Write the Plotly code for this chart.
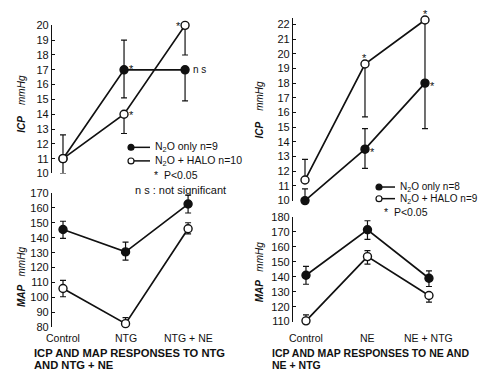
import plotly.graph_objects as go

W, H = 482, 376

# ---------------- data ----------------
left_cats = ["Control", "NTG", "NTG + NE"]
right_cats = ["Control", "NE", "NE + NTG"]

# Left panel (NTG, NTG+NE)
l_icp_n2o = [11.0, 17.0, 17.0]
l_icp_n2o_up = [1.6, 2.0, 0.0]
l_icp_n2o_dn = [0.0, 1.9, 2.1]
l_icp_halo = [11.0, 14.0, 20.0]
l_icp_halo_up = [0.0, 0.0, 0.0]
l_icp_halo_dn = [1.0, 1.3, 2.0]
l_icp_n2o_sig = ["", "*", "n s"]
l_icp_halo_sig = ["", "*", "*"]

l_map_n2o = [145.5, 130.5, 162.5]
l_map_n2o_up = [5.5, 6.5, 6.0]
l_map_n2o_dn = [6.0, 5.5, 6.0]
l_map_halo = [106.0, 82.5, 146.0]
l_map_halo_up = [5.5, 4.0, 4.0]
l_map_halo_dn = [5.5, 0.0, 3.5]

# Right panel (NE, NE+NTG)
r_icp_n2o = [10.0, 13.5, 18.0]
r_icp_n2o_up = [0.8, 1.4, 0.0]
r_icp_n2o_dn = [0.0, 1.3, 3.1]
r_icp_halo = [11.4, 19.3, 22.3]
r_icp_halo_up = [1.4, 0.0, 0.0]
r_icp_halo_dn = [0.0, 3.6, 4.3]
r_icp_n2o_sig = ["", "*", "*"]
r_icp_halo_sig = ["", "*", "*"]

r_map_n2o = [141.0, 171.5, 139.0]
r_map_n2o_up = [6.0, 6.0, 5.0]
r_map_n2o_dn = [6.0, 6.5, 5.5]
r_map_halo = [110.5, 153.5, 127.5]
r_map_halo_up = [4.0, 4.0, 0.0]
r_map_halo_dn = [0.0, 5.0, 4.5]

left_legend = ["N<sub>2</sub>O only n=9", "N<sub>2</sub>O + HALO n=10"]
right_legend = ["N<sub>2</sub>O only n=8", "N<sub>2</sub>O + HALO n=9"]
sig_text = "P<0.05"
ns_text = "n s : not significant"
left_title = ["ICP AND MAP RESPONSES TO NTG", "AND NTG + NE"]
right_title = ["ICP AND MAP RESPONSES TO NE AND", "NE + NTG"]

# ---------------- helpers ----------------
FONT = "Liberation Sans"
BLACK = "#111111"


def px(x):
    return x / W


def py(y):
    return 1 - y / H


fig = go.Figure()


def add_series(vals, up, dn, xa, ya, filled):
    xs = list(range(len(vals)))
    fig.add_trace(go.Scatter(
        x=xs, y=vals, xaxis=xa, yaxis=ya, mode="lines+markers",
        line=dict(color=BLACK, width=1.7),
        marker=dict(symbol="circle", size=8,
                    color=BLACK if filled else "white",
                    line=dict(color=BLACK, width=1.4)),
        error_y=dict(type="data", symmetric=False, array=up, arrayminus=dn,
                     color=BLACK, thickness=1.2, width=3),
        cliponaxis=False, showlegend=False, hoverinfo="skip"))


add_series(l_icp_n2o, l_icp_n2o_up, l_icp_n2o_dn, "x", "y", True)
add_series(l_icp_halo, l_icp_halo_up, l_icp_halo_dn, "x", "y", False)
add_series(l_map_n2o, l_map_n2o_up, l_map_n2o_dn, "x2", "y2", True)
add_series(l_map_halo, l_map_halo_up, l_map_halo_dn, "x2", "y2", False)
add_series(r_icp_n2o, r_icp_n2o_up, r_icp_n2o_dn, "x3", "y3", True)
add_series(r_icp_halo, r_icp_halo_up, r_icp_halo_dn, "x3", "y3", False)
add_series(r_map_n2o, r_map_n2o_up, r_map_n2o_dn, "x4", "y4", True)
add_series(r_map_halo, r_map_halo_up, r_map_halo_dn, "x4", "y4", False)

tickfont = dict(family=FONT, size=11, color=BLACK)


def yax(domain, rng, dtick, anchor):
    return dict(domain=domain, range=rng, dtick=dtick, tick0=rng[0],
                showline=True, anchor=anchor,
                linecolor=BLACK, linewidth=1.2, ticks="inside", ticklen=3,
                tickcolor=BLACK, tickfont=tickfont, showgrid=False,
                zeroline=False, fixedrange=True)


def xax(domain, rng, anchor):
    return dict(domain=domain, range=rng, visible=False, anchor=anchor,
                fixedrange=True)


fig.update_layout(
    width=W, height=H, margin=dict(l=0, r=0, t=0, b=0),
    paper_bgcolor="white", plot_bgcolor="white", showlegend=False,
    xaxis=xax([px(52), px(240)], [-0.18, 2.90], "y"),
    yaxis=yax([py(173), py(20)], [10, 20], 1, "x"),
    xaxis2=xax([px(52), px(240)], [-0.176, 2.83], "y2"),
    yaxis2=yax([py(332), py(193)], [80, 170], 10, "x2"),
    xaxis3=xax([px(293), px(480)], [-0.2, 2.917], "y3"),
    yaxis3=yax([py(201), py(12.9)], [10, 22.4], 1, "x3"),
    xaxis4=xax([px(293), px(480)], [-0.211, 2.83], "y4"),
    yaxis4=yax([py(326), py(218)], [110, 180], 10, "x4"),
)

ann = []
shapes = []


def text(x, y, s, size=10, xanchor="center", yanchor="middle", **kw):
    d = dict(x=px(x), y=py(y), xref="paper", yref="paper", text=s,
             showarrow=False, xanchor=xanchor, yanchor=yanchor,
             font=dict(family=FONT, size=size, color=BLACK))
    d.update(kw)
    ann.append(d)


# axis titles
text(22, 101, "<b><i>ICP</i></b>    <i>mmHg</i>", size=10, textangle=-90)
text(21, 280, "<b><i>MAP</i></b>   <i>mmHg</i>", size=10, textangle=-90)
text(260, 107, "<b><i>ICP</i></b>    <i>mmHg</i>", size=10, textangle=-90)
text(259, 275, "<b><i>MAP</i></b>   <i>mmHg</i>", size=10, textangle=-90)

# category labels
for i, c in enumerate(left_cats):
    ann.append(dict(x=i, y=py(343), xref="x2", yref="paper", text=c,
                    showarrow=False, yanchor="middle",
                    font=dict(family=FONT, size=10.5, color=BLACK)))
for i, c in enumerate(right_cats):
    ann.append(dict(x=i, y=py(343), xref="x4", yref="paper", text=c,
                    showarrow=False, yanchor="middle",
                    font=dict(family=FONT, size=10.5, color=BLACK)))

# panel titles
for k, line in enumerate(left_title):
    text(32, 358 + 13 * k, "<b>" + line + "</b>", size=11.2, xanchor="left")
for k, line in enumerate(right_title):
    text(270, 358 + 13 * k, "<b>" + line + "</b>", size=10.5, xanchor="left")


# significance marks
def sig(vals, marks, xa, ya, dx, dy):
    for i, (v, m) in enumerate(zip(vals, marks)):
        if not m:
            continue
        ann.append(dict(x=i, y=v, xref=xa, yref=ya, text=m, showarrow=False,
                        xshift=dx[i], yshift=dy[i], xanchor="center",
                        font=dict(family=FONT, size=10 if m != "*" else 11, color=BLACK)))


sig(l_icp_n2o, l_icp_n2o_sig, "x", "y", [0, 7, 14], [0, 1, 0])
sig(l_icp_halo, l_icp_halo_sig, "x", "y", [0, 7, -7], [0, -1, -1])
sig(r_icp_n2o, r_icp_n2o_sig, "x3", "y3", [0, 8, 8], [0, -3, -3])
sig(r_icp_halo, r_icp_halo_sig, "x3", "y3", [0, 0, 1], [0, 6, 6])


# legends
def legend_row(x0, x1, xm, y, filled, label, tx, size=10.5):
    shapes.append(dict(type="line", xref="paper", yref="paper",
                       x0=px(x0), x1=px(x1), y0=py(y), y1=py(y),
                       line=dict(color=BLACK, width=1.5)))
    r = 3
    shapes.append(dict(type="circle", xref="paper", yref="paper",
                       x0=px(xm - r), x1=px(xm + r), y0=py(y + r), y1=py(y - r),
                       fillcolor=BLACK if filled else "white",
                       line=dict(color=BLACK, width=1.2)))
    text(tx, y, label, size=size, xanchor="left")


legend_row(130, 150, 131, 146, True, left_legend[0], 153)
legend_row(130, 150, 131, 160, False, left_legend[1], 153)
text(152, 175, "*  " + sig_text, size=10.5, xanchor="left")
text(133, 190, ns_text, size=11, xanchor="left")

legend_row(377, 395, 379, 187, True, right_legend[0], 398, 10)
legend_row(377, 395, 379, 199, False, right_legend[1], 398, 10)
text(382, 213, "*  " + sig_text, size=10.5, xanchor="left")

fig.update_layout(annotations=ann, shapes=shapes)
fig.write_html("out.html", config={"displayModeBar": False},
               post_script="document.body.style.margin='0px';document.body.style.padding='0px';")
